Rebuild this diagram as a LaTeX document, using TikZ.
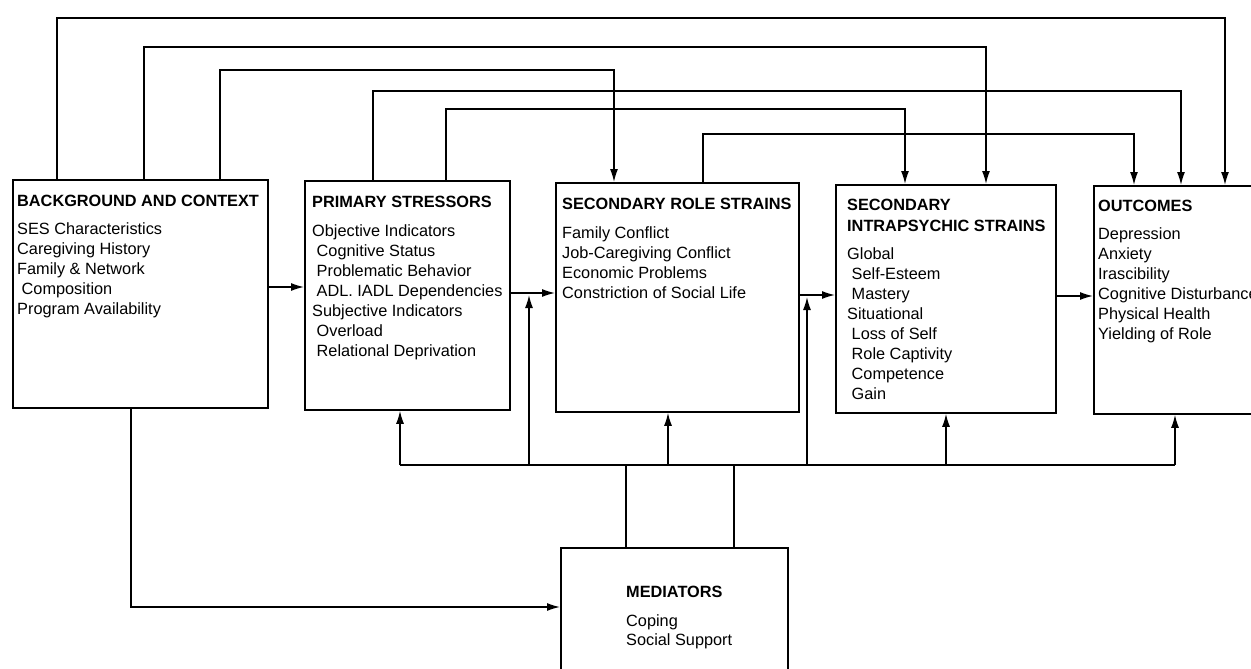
\documentclass[tikz,border=0pt]{standalone}
\usepackage{fontspec}
\setmainfont{Liberation Sans}
\usetikzlibrary{arrows.meta,calc}

\newcommand{\diafont}{\fontsize{16.3}{20}\selectfont}
\newcommand{\ind}{\hspace*{4.5pt}}

\tikzset{
  stressbox/.style={draw, line width=1.8pt, inner sep=0pt, anchor=north west},
  headline/.style={anchor=base west, inner sep=0pt, font=\diafont\bfseries},
  itemline/.style={anchor=base west, inner sep=0pt},
  link/.style={line width=1.4pt},
  feed/.style={link, -{Latex[length=13pt,width=8pt]}},
}

\begin{document}
\begin{tikzpicture}[x=1pt, y=-1pt, font=\diafont]
  \useasboundingbox (0,0) rectangle (1251,669);

  \node[stressbox, minimum width=255pt, minimum height=228pt] (bg) at (12,179) {};
  \node[stressbox, minimum width=205pt, minimum height=229pt] (ps) at (304,180) {};
  \node[stressbox, minimum width=243pt, minimum height=229pt] (srs) at (555,182) {};
  \node[stressbox, minimum width=220pt, minimum height=228pt] (sis) at (835,184) {};
  \node[stressbox, minimum width=180pt, minimum height=228pt] (out) at (1093,185) {};
  \node[stressbox, minimum width=227pt, minimum height=150pt] (med) at (560,547) {};

  \node[headline] (bg-t) at (17,206) {BACKGROUND AND CONTEXT};
  \foreach \s [count=\i] in {SES Characteristics, Caregiving History, Family \& Network, \ind Composition, Program Availability}
    \node[itemline] (bg-\i) at (17,214+20*\i) {\s};

  \node[headline] (ps-t) at (312,207) {PRIMARY STRESSORS};
  \foreach \s [count=\i] in {Objective Indicators, \ind Cognitive Status, \ind Problematic Behavior, \ind ADL. IADL Dependencies, Subjective Indicators, \ind Overload, \ind Relational Deprivation}
    \node[itemline] (ps-\i) at (312,216+20*\i) {\s};

  \node[headline] (srs-t) at (562,209) {SECONDARY ROLE STRAINS};
  \foreach \s [count=\i] in {Family Conflict, Job-Caregiving Conflict, Economic Problems, Constriction of Social Life}
    \node[itemline] (srs-\i) at (562,218+20*\i) {\s};

  \node[headline] (sis-t) at (847,210) {SECONDARY};
  \node[headline] (sis-u) at (847,231) {INTRAPSYCHIC STRAINS};
  \foreach \s [count=\i] in {Global, \ind Self-Esteem, \ind Mastery, Situational, \ind Loss of Self, \ind Role Captivity, \ind Competence, \ind Gain}
    \node[itemline] (sis-\i) at (847,239+20*\i) {\s};

  \node[headline] (out-t) at (1098,211) {OUTCOMES};
  \foreach \s [count=\i] in {Depression, Anxiety, Irascibility, Cognitive Disturbance, Physical Health, Yielding of Role}
    \node[itemline] (out-\i) at (1098,219+20*\i) {\s};

  \node[headline] (med-t) at (626,597) {MEDIATORS};
  \foreach \s [count=\i] in {Coping, Social Support}
    \node[itemline] (med-\i) at (626,607+19*\i) {\s};

  % links over the top
  \foreach \xa/\a/\yl/\xb/\b in {57/bg/18/1225/out, 144/bg/47/986/sis, 220/bg/70/614/srs,
                                 373/ps/91/1181/out, 446/ps/109/905/sis, 703/srs/134/1134/out}
    \draw[feed] (\a.north -| \xa,0) |- (\xb,\yl) -- (\b.north -| \xb,0);

  \draw[feed] (bg.east |- 0,287) -- (ps.west |- 0,287);
  \draw[feed] (ps.east |- 0,293) -- (srs.west |- 0,293);
  \draw[feed] (srs.east |- 0,295) -- (sis.west |- 0,295);
  \draw[feed] (sis.east |- 0,296) -- (out.west |- 0,296);

  % mediators bus
  \coordinate (busl) at (400,465);
  \coordinate (busr) at (1175,465);
  \draw[link] (busl) -- (busr);
  \draw[link] (med.north -| 626,0) -- (626,465);
  \draw[link] (med.north -| 734,0) -- (734,465);
  \draw[feed] (busl) -- (ps.south -| busl);
  \draw[feed] (529,465) -- (529,295);
  \draw[feed] (668,465) -- (srs.south -| 668,0);
  \draw[feed] (807,465) -- (807,297);
  \draw[feed] (946,465) -- (sis.south -| 946,0);
  \draw[feed] (busr) -- (out.south -| busr);
  \draw[feed] (bg.south -| 131,0) |- (med.west |- 0,607);
\end{tikzpicture}
\end{document}
